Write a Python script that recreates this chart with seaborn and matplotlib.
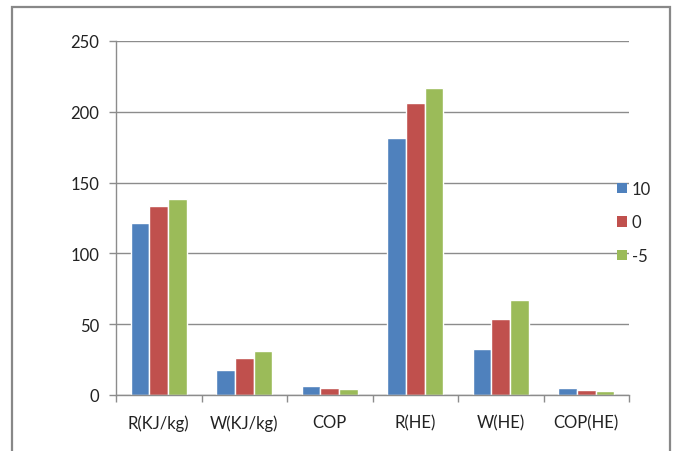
import numpy as np
import pandas as pd
import seaborn as sns
import matplotlib.pyplot as plt
from matplotlib.patches import Rectangle, Patch

# values
categories = ['R(KJ/kg)', 'W(KJ/kg)', 'COP', 'R(HE)', 'W(HE)', 'COP(HE)']
series_names = ['10', '0', '-5']
vals_10 = [121.8, 17.7, 6.4, 181.8, 32.3, 5.0]
vals_0 = [133.3, 25.9, 4.8, 206.0, 54.0, 3.6]
vals_m5 = [138.2, 30.9, 4.1, 216.6, 67.1, 2.9]
yticks = [0, 50, 100, 150, 200, 250]

colors = ['#4F81BD', '#C0504D', '#9BBB59']
grid_c = '#8C8C8C'

df = pd.DataFrame({
    'cat': categories * 3,
    'val': vals_10 + vals_0 + vals_m5,
    'series': [s for s in series_names for _ in categories],
})

sns.set_theme(style='white')
plt.rcParams['font.family'] = ['Lato', 'DejaVu Sans']

fig = plt.figure(figsize=(6.76, 4.52), dpi=100)
ax = fig.add_axes([116/676, 1 - 396/452, (629-116)/676, (396-42)/452])

sns.barplot(data=df, x='cat', y='val', hue='series', hue_order=series_names,
            order=categories, palette=colors, width=0.65, saturation=1,
            ax=ax, legend=False)

ax.set_xlim(-0.5, 5.5)
ax.set_ylim(0, 250)
ax.set_yticks(yticks)
ax.set_yticklabels([str(t) for t in yticks], fontsize=12, color='#222222')
ax.yaxis.grid(True, color=grid_c, lw=1)
ax.set_axisbelow(True)
ax.tick_params(axis='y', length=5, width=1, color=grid_c, pad=7, left=True)

ax.set_xticks(np.arange(-0.5, 6, 1))
ax.set_xticklabels([''] * 7)
ax.set_xticks(range(6), minor=True)
ax.set_xticklabels(categories, minor=True, fontsize=12, color='#222222')
ax.tick_params(axis='x', which='major', length=5, width=1, color=grid_c, bottom=True)
ax.tick_params(axis='x', which='minor', length=0, pad=14)
ax.set_xlabel('')
ax.set_ylabel('')

for s in ['top', 'right']:
    ax.spines[s].set_visible(False)
for s in ['left', 'bottom']:
    ax.spines[s].set_color(grid_c)
    ax.spines[s].set_linewidth(1)

handles = [Patch(facecolor=c, edgecolor='none') for c in colors]
ax.legend(handles, series_names, loc='upper left', bbox_to_anchor=(617/676, 1 - 182/452),
          bbox_transform=fig.transFigure, frameon=False, fontsize=12,
          handlelength=0.6, handleheight=0.6, handletextpad=0.3,
          labelspacing=1.05, borderpad=0, borderaxespad=0)

fig.patches.append(Rectangle((11.5/676, -0.05), (670-11.5)/676, 1.05 - 7.5/452,
                             transform=fig.transFigure, fill=False,
                             edgecolor='#888888', lw=1.6))

fig.savefig('out.png', dpi=100, facecolor='white')
